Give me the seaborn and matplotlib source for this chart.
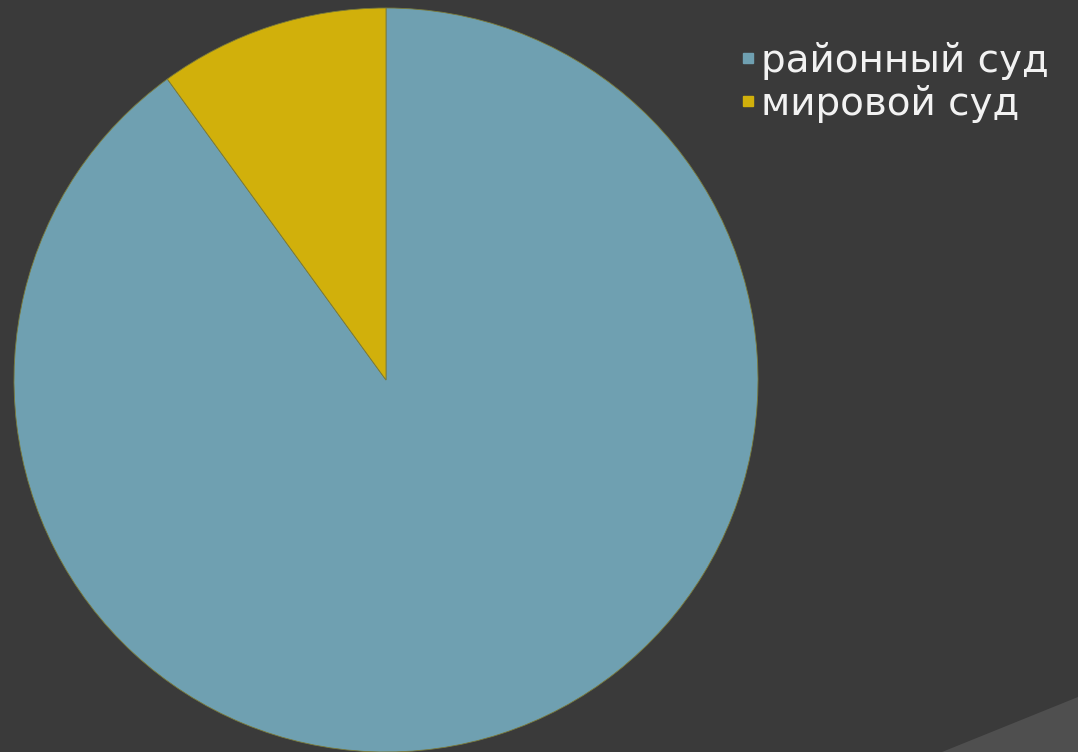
import matplotlib
matplotlib.use('Agg')
import matplotlib.pyplot as plt
from matplotlib.lines import Line2D
from matplotlib.patches import Polygon
import seaborn as sns

# данные
labels = ['районный суд', 'мировой суд']
values = [90, 10]
colors = ['#6fa0b1', '#d1b00b']

sns.set_theme(style='dark')
plt.rcParams['font.family'] = ['DejaVu Sans']

bg = '#3a3a3a'
fig = plt.figure(figsize=(10.78, 7.52), dpi=100, facecolor=bg)

# декоративная полоса справа внизу
fig.patches.append(Polygon([[942 / 1078, 0], [1, 0], [1, 55 / 752]],
                           closed=True, transform=fig.transFigure,
                           facecolor='#4f4f4f', edgecolor='none'))

ax = fig.add_axes([14 / 1078, 0, 744 / 1078, 744 / 752])
ax.set_facecolor(bg)
wedges, _ = ax.pie(values, colors=colors, startangle=90, counterclock=False,
                   wedgeprops=dict(edgecolor='#7a7a3a', linewidth=0.6))
ax.set_xlim(-1, 1)
ax.set_ylim(-1, 1)
ax.set_aspect('equal')
ax.axis('off')

handles = [Line2D([0], [0], marker='s', linestyle='none', markersize=6.5,
                  markerfacecolor=c, markeredgecolor=c) for c in colors]
fig.legend(handles, labels, loc='upper left', bbox_to_anchor=(740 / 1078, 1 - 42 / 752),
           frameon=False, fontsize=28, labelcolor='#f2f2f2',
           handletextpad=0.15, handlelength=0.4, labelspacing=0.12, borderaxespad=0,
           borderpad=0)

fig.savefig('out.png', dpi=100, facecolor=bg)
